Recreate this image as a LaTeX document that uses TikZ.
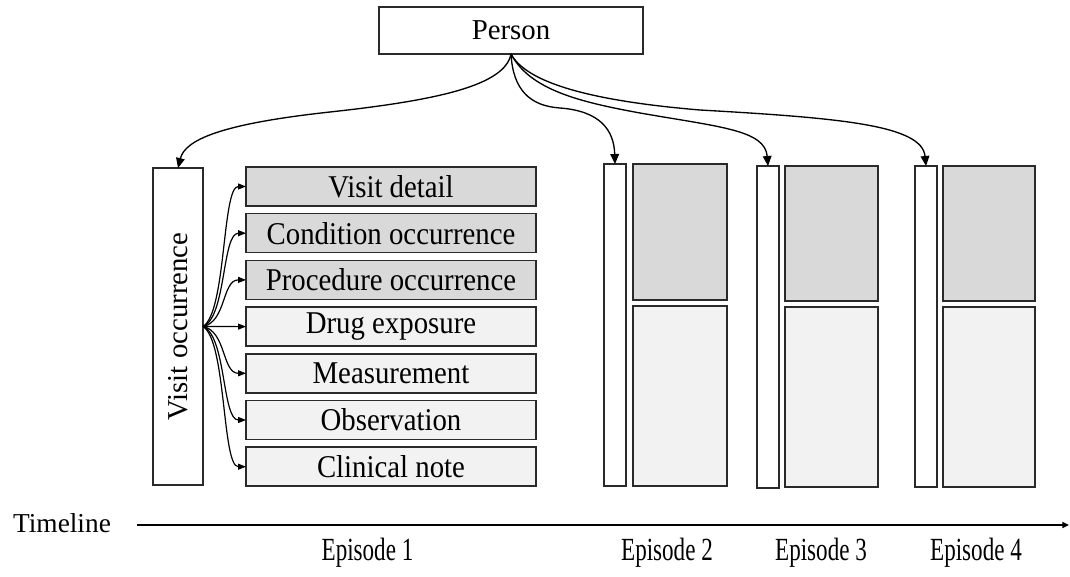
\documentclass[tikz,border=0pt]{standalone}
\usepackage{fontspec}
\setmainfont{Liberation Serif}
\usetikzlibrary{arrows.meta,calc}

\definecolor{edge}{HTML}{2A2A2A}
\definecolor{darkfill}{HTML}{D9D9D9}
\definecolor{lightfill}{HTML}{F2F2F2}

% slightly taller lettering for the table names
\newcommand\tallrow[1]{\scalebox{1}[1.1]{#1}}

\tikzset{
  pbox/.style 2 args={draw=edge, line width=1.1pt, rectangle, inner sep=0pt, outer sep=0pt,
    anchor=north west, minimum width=#1*0.75pt, minimum height=#2*0.75pt},
  txt/.style={inner sep=0pt, font=\fontsize{21.6pt}{25pt}\selectfont},
  eplabel/.style={inner sep=0pt, font=\fontsize{17.3pt}{21pt}\selectfont},
  link/.style={draw=black, line width=1pt, -{Triangle[length=7.5pt,width=6.5pt]}},
  fan/.style={draw=black, line width=0.9pt, -{Triangle[length=6pt,width=4.5pt]}},
  axis/.style={draw=black, line width=1pt, -{Triangle[length=5pt,width=4.5pt]}},
}

\begin{document}
\begin{tikzpicture}[x=0.75pt,y=-0.75pt]
\useasboundingbox (0,0) rectangle (1070,577);

% person
\node[pbox={264}{47}, fill=white] (person) at (379,7) {};
\node[txt] (personlabel) at (person.center) {Person};

% visit occurrence and its tables
\node[pbox={50}{317}, fill=white] (vo) at (153,168) {};
\node[txt, rotate=90] (volabel) at (vo.center) {Visit occurrence};

\node[pbox={290}{39}, fill=darkfill]  (r1) at (246,167.0) {};
\node[pbox={290}{39}, fill=darkfill]  (r2) at (246,213.7) {};
\node[pbox={290}{39}, fill=darkfill]  (r3) at (246,260.4) {};
\node[pbox={290}{39}, fill=lightfill] (r4) at (246,307.1) {};
\node[pbox={290}{39}, fill=lightfill] (r5) at (246,353.8) {};
\node[pbox={290}{39}, fill=lightfill] (r6) at (246,400.5) {};
\node[pbox={290}{39}, fill=lightfill] (r7) at (246,447.2) {};
\node[txt] (t1) at (r1.center) {\tallrow{Visit detail}};
\node[txt] (t2) at (r2.center) {\tallrow{Condition occurrence}};
\node[txt] (t3) at (r3.center) {\tallrow{Procedure occurrence}};
\node[txt] (t4) at (r4.center) {\tallrow{Drug exposure}};
\node[txt] (t5) at (r5.center) {\tallrow{Measurement}};
\node[txt] (t6) at (r6.center) {\tallrow{Observation}};
\node[txt] (t7) at (r7.center) {\tallrow{Clinical note}};

\foreach \t in {r1,r2,r3,r4,r5,r6,r7}
  \draw[fan] (vo.east) .. controls ($(vo.east)!0.1!(\t.west)+(19,0)$) and ($(\t.west)+(-24,0)$) .. (\t.west);

% later episodes
\node[pbox={22}{322}, fill=white]     (e2v) at (604,164) {};
\node[pbox={94}{136}, fill=darkfill]  (e2a) at (633,164) {};
\node[pbox={94}{180}, fill=lightfill] (e2b) at (633,306) {};

\node[pbox={22}{322}, fill=white]     (e3v) at (757,166) {};
\node[pbox={93}{135}, fill=darkfill]  (e3a) at (785,166) {};
\node[pbox={93}{180}, fill=lightfill] (e3b) at (785,307) {};

\node[pbox={22}{321}, fill=white]     (e4v) at (915,166) {};
\node[pbox={92}{135}, fill=darkfill]  (e4a) at (943,166) {};
\node[pbox={92}{180}, fill=lightfill] (e4b) at (943,307) {};

% person to each visit
\draw[link] (person.south) .. controls (505,85) and (440,100) .. (330,112)
                           .. controls (220,124) and (185,140) .. (vo.north);
\draw[link] (person.south) .. controls (513,90) and (530,106) .. (560,108)
                           .. controls (600,111) and (614,130) .. (e2v.north);
\draw[link] (person.south) .. controls (530,90) and (580,102) .. (640,113)
                           .. controls (720,127) and (765,130) .. (e3v.north);
\draw[link] (person.south) .. controls (525,80) and (580,100) .. (700,110)
                           .. controls (840,118) and (922,125) .. (e4v.north);

% timeline
\node[txt, font=\fontsize{20.5pt}{24pt}\selectfont] (tl) at (62,523) {Timeline};
\coordinate (tlstart) at (137,525);
\coordinate (tlend) at (1069,525);
\draw[axis] (tlstart) -- (tlend);

\node[eplabel] (ep1) at (367.5,553) {\scalebox{1}[1.4]{Episode 1}};
\node[eplabel] (ep2) at (667,553) {\scalebox{1}[1.4]{Episode 2}};
\node[eplabel] (ep3) at (821,553) {\scalebox{1}[1.4]{Episode 3}};
\node[eplabel] (ep4) at (976,553) {\scalebox{1}[1.4]{Episode 4}};
\end{tikzpicture}
\end{document}
